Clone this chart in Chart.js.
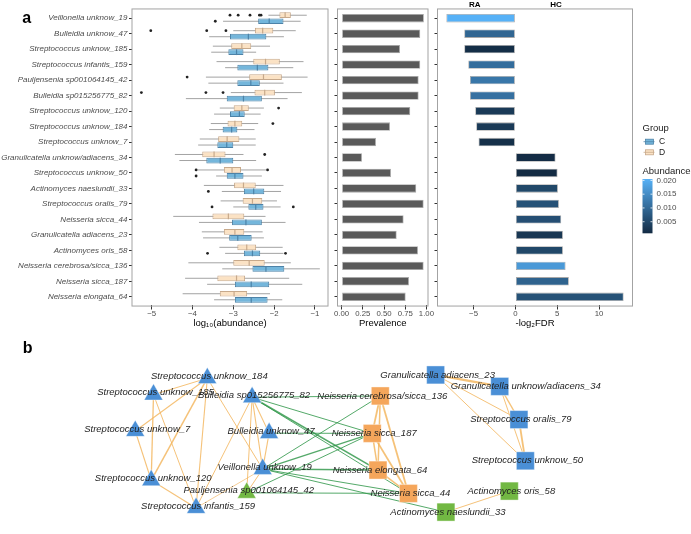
<!DOCTYPE html>
<html>
<head>
<meta charset="utf-8">
<script src="https://cdn.jsdelivr.net/npm/chart.js@4.4.1/dist/chart.umd.min.js"></script>
<style>
  html, body { margin: 0; padding: 0; background: #fff; }
  #wrap { position: relative; width: 691px; height: 534px; overflow: hidden; }
  canvas { position: absolute; }
</style>
</head>
<body>
<div id="wrap">
  <canvas id="box" width="330" height="334" style="left:0;top:0"></canvas>
  <canvas id="prev" width="107" height="334" style="left:330px;top:0"></canvas>
  <canvas id="fdr" width="259" height="334" style="left:432px;top:0"></canvas>
  <canvas id="net" width="691" height="200" style="left:0;top:334px"></canvas>
</div>
<script>
// ---- data ----
const species = ['Veillonella unknow_19', 'Bulleidia unknow_47', 'Streptococcus unknow_185',
  'Streptococcus infantis_159', 'Pauljensenia sp001064145_42', 'Bulleidia sp015256775_82',
  'Streptococcus unknow_120', 'Streptococcus unknow_184', 'Streptococcus unknow_7',
  'Granulicatella unknow/adiacens_34', 'Streptococcus unknow_50', 'Actinomyces naeslundii_33',
  'Streptococcus oralis_79', 'Neisseria sicca_44', 'Granulicatella adiacens_23',
  'Actinomyces oris_58', 'Neisseria cerebrosa/sicca_136', 'Neisseria sicca_187', 'Neisseria elongata_64'];

// log10 abundance, group D
const dMin = [-2.14, -3.00, -3.50, -3.41, -3.67, -3.06, -3.33, -3.55, -3.82, -4.43, -3.88, -3.72, -3.31, -4.47, -3.77, -3.34, -4.10, -4.18, -4.24];
const dQ1  = [-1.87, -2.47, -3.05, -2.51, -2.61, -2.48, -2.99, -3.14, -3.37, -3.76, -3.23, -2.98, -2.77, -3.51, -3.23, -2.90, -3.00, -3.39, -3.33];
const dMed = [-1.73, -2.28, -2.79, -2.21, -2.26, -2.23, -2.79, -2.96, -3.15, -3.47, -3.03, -2.75, -2.53, -3.12, -2.96, -2.67, -2.61, -2.92, -2.98];
const dQ3  = [-1.59, -2.02, -2.56, -1.86, -1.81, -1.98, -2.62, -2.78, -2.85, -3.19, -2.81, -2.45, -2.29, -2.73, -2.73, -2.44, -2.23, -2.71, -2.66];
const dMax = [-1.20, -1.47, -2.10, -1.28, -1.18, -1.32, -2.25, -2.39, -2.45, -2.75, -2.20, -1.77, -1.93, -2.21, -2.28, -1.79, -1.59, -1.63, -2.10];
const dOut = [[-3.08, -2.88, -2.59, -2.36, -2.32], [-5.02, -3.65, -3.18], [], [], [-4.13], [-5.25, -3.67, -3.25],
  [-1.89], [-2.03], [], [-2.23], [-3.91, -2.16], [], [], [], [], [], [], [], []];

// log10 abundance, group C
const cMin = [-3.25, -3.59, -3.54, -3.20, -3.61, -4.16, -3.47, -3.59, -3.86, -4.32, -3.42, -3.28, -3.00, -3.84, -3.74, -3.20, -3.27, -3.64, -3.47];
const cQ1  = [-2.39, -3.08, -3.12, -2.90, -2.90, -3.16, -3.08, -3.26, -3.39, -3.66, -3.16, -2.74, -2.63, -3.03, -3.10, -2.74, -2.53, -2.96, -2.96];
const cMed = [-2.12, -2.63, -2.92, -2.41, -2.57, -2.75, -2.85, -3.04, -3.16, -3.32, -2.96, -2.50, -2.45, -2.69, -2.89, -2.53, -2.20, -2.56, -2.56];
const cQ3  = [-1.77, -2.19, -2.75, -2.14, -2.35, -2.30, -2.72, -2.90, -3.00, -3.00, -2.75, -2.24, -2.26, -2.30, -2.55, -2.34, -1.75, -2.12, -2.16];
const cMax = [-1.35, -1.76, -2.44, -1.53, -1.77, -1.67, -2.33, -2.48, -2.45, -2.44, -2.30, -1.83, -1.84, -1.72, -2.25, -1.77, -0.88, -1.31, -1.80];
const cOut = [[-3.44], [], [], [], [], [], [], [], [], [], [-3.91], [-3.61], [-3.52, -1.53], [], [], [-3.63, -1.72], [], [], []];

const prevalence = [0.97, 0.927, 0.688, 0.927, 0.908, 0.908, 0.809, 0.570, 0.405, 0.24, 0.582, 0.88, 0.967, 0.731, 0.649, 0.90, 0.967, 0.794, 0.755];
const log2FDR = [-8.25, -6.11, -6.11, -5.63, -5.43, -5.43, -4.80, -4.68, -4.40, 4.80, 5.04, 5.08, 5.20, 5.48, 5.68, 5.68, 6.0, 6.39, 12.94];
const abundance = [0.0205, 0.0095, 0.0012, 0.0105, 0.012, 0.011, 0.003, 0.003, 0.0015, 0.001, 0.0008, 0.005, 0.0065, 0.006, 0.0025, 0.005, 0.017, 0.009, 0.0065];

const boxTicks = [-5, -4, -3, -2, -1];
const prevTicks = [0, 0.25, 0.5, 0.75, 1];
const fdrTicks = [-5, 0, 5, 10];
const abundanceTicks = [0.005, 0.010, 0.015, 0.020];

// network: nodes (layout units) and edges
const nodeNames = ['Streptococcus unknow_184', 'Streptococcus unknow_185', 'Bulleidia sp015256775_82',
  'Streptococcus unknow_7', 'Bulleidia unknow_47', 'Veillonella unknow_19', 'Streptococcus unknow_120',
  'Pauljensenia sp001064145_42', 'Streptococcus infantis_159', 'Granulicatella adiacens_23',
  'Granulicatella unknow/adiacens_34', 'Streptococcus oralis_79', 'Streptococcus unknow_50',
  'Neisseria cerebrosa/sicca_136', 'Neisseria sicca_187', 'Neisseria elongata_64', 'Neisseria sicca_44',
  'Actinomyces oris_58', 'Actinomyces naeslundii_33'];
const nodeX = [201.7, 145.7, 248.3, 126.7, 266, 259.3, 143.3, 242.7, 190, 439.3, 506, 526, 532.7, 381.7, 373.3, 379.3, 411, 516, 450];
const nodeY = [369.5, 388.5, 391.5, 430.5, 433, 474.5, 487.5, 502, 519.5, 365.7, 379, 417.3, 465, 390, 433.3, 475.7, 502.7, 500, 524.3];
const nodeShape = ['tri', 'tri', 'tri', 'tri', 'tri', 'tri', 'tri', 'tri', 'tri', 'sq', 'sq', 'sq', 'sq', 'sq', 'sq', 'sq', 'sq', 'sq', 'sq'];
const nodeGroup = ['blue', 'blue', 'blue', 'blue', 'blue', 'blue', 'blue', 'green', 'blue', 'blue', 'blue', 'blue', 'blue',
  'orange', 'orange', 'orange', 'orange', 'green', 'green'];

const edgeFrom   = [0, 0, 0, 0, 0, 1, 1, 3, 6, 2, 2, 2, 2, 4, 5, 5, 13, 13, 13, 14, 14, 15, 9, 9, 9, 10, 10, 11, 17,
  2, 2, 2, 2, 4, 5, 5, 5, 5, 5, 7, 7];
const edgeTo     = [1, 3, 6, 8, 5, 6, 8, 6, 8, 4, 5, 7, 8, 5, 7, 8, 14, 15, 16, 15, 16, 16, 10, 11, 12, 11, 12, 12, 18,
  13, 14, 15, 16, 14, 13, 14, 15, 16, 18, 14, 16];
const edgeSign   = ['+', '+', '+', '+', '+', '+', '+', '+', '+', '+', '+', '+', '+', '+', '+', '+', '+', '+', '+', '+', '+', '+', '+', '+', '+', '+', '+', '+', '+',
  '-', '-', '-', '-', '-', '-', '-', '-', '-', '-', '-', '-'];
const edgeWeight = [1, 1.1, 1.5, 1.1, 1, 1.3, 1, 1.1, 1.1, 1.1, 1.1, 1, 1, 1.1, 1, 0.8, 1.8, 1.5, 1.8, 1.5, 1.8, 1.5, 2.2, 1, 1, 1.3, 1, 1.8, 1,
  1, 1, 1.6, 1, 1, 1, 1.3, 1.5, 1, 1, 1, 1];

// ---- styles ----
Chart.defaults.font.family = "'Liberation Sans', Arial, sans-serif";
Chart.defaults.color = '#4d4d4d';
const FONT = "'Liberation Sans', Arial, sans-serif";
const C_FILL = '#74b6db', C_LINE = '#4d83a8';
const D_FILL = '#fbe2c4', D_LINE = '#c7a98b';
const WHISKER = '#a3a3a3';
const PANEL = '#a3a3a3';
const LOW = [19, 43, 67], HIGH = [86, 177, 247];
const abLo = Math.min(...abundance), abHi = Math.max(...abundance);

function abColor(a) {
  const t = Math.max(0, Math.min(1, (a - abLo) / (abHi - abLo)));
  const c = LOW.map((l, k) => Math.round(l + (HIGH[k] - l) * t));
  return `rgb(${c[0]},${c[1]},${c[2]})`;
}
const minus = v => (v < 0 ? '\u2212' + Math.abs(v) : String(v));

// ggplot-like discrete expansion (0.6 instead of chart.js 0.5)
function panelRect(chart) {
  const a = chart.chartArea;
  const extra = 0.1 * (a.bottom - a.top) / species.length;
  return { left: a.left, right: a.right, top: a.top - extra, bottom: a.bottom + extra };
}
function drawPanel(chart) {
  const r = panelRect(chart), ctx = chart.ctx;
  ctx.save();
  ctx.strokeStyle = PANEL;
  ctx.lineWidth = 1;
  ctx.strokeRect(r.left, r.top, r.right - r.left, r.bottom - r.top);
  ctx.restore();
}

const commonY = {
  grid: { drawOnChartArea: false, drawTicks: true, tickLength: 3, color: '#333', offset: false },
  border: { display: false }
};
function xAxis(min, max, ticks, fmt, title) {
  return {
    type: 'linear', min, max,
    afterBuildTicks: s => { s.ticks = ticks.map(v => ({ value: v })); },
    afterFit: s => { s.height = 29.5; },
    grid: { drawOnChartArea: false, drawTicks: true, tickLength: 5, color: '#333' },
    border: { display: false },
    ticks: { font: { size: 7.8 }, color: '#4d4d4d', padding: 0, maxRotation: 0, callback: fmt },
    title: { display: true, text: title, color: '#000', font: { size: 9.5 }, padding: { top: 0, bottom: 5 } }
  };
}

// ---- boxplot panel ----
const groups = [
  { min: dMin, med: dMed, max: dMax, out: dOut, line: D_LINE },
  { min: cMin, med: cMed, max: cMax, out: cOut, line: C_LINE }
];
const boxExtras = {
  id: 'boxExtras',
  beforeDatasetsDraw(chart) {
    const ctx = chart.ctx, x = chart.scales.x;
    ctx.save();
    ctx.strokeStyle = WHISKER;
    ctx.lineWidth = 1;
    groups.forEach((g, di) => {
      chart.getDatasetMeta(di).data.forEach((bar, i) => {
        ctx.beginPath();
        ctx.moveTo(x.getPixelForValue(g.min[i]), bar.y);
        ctx.lineTo(x.getPixelForValue(g.max[i]), bar.y);
        ctx.stroke();
      });
    });
    ctx.restore();
  },
  afterDatasetsDraw(chart) {
    const ctx = chart.ctx, x = chart.scales.x;
    ctx.save();
    groups.forEach((g, di) => {
      chart.getDatasetMeta(di).data.forEach((bar, i) => {
        const px = x.getPixelForValue(g.med[i]);
        ctx.strokeStyle = g.line;
        ctx.lineWidth = 1.2;
        ctx.beginPath();
        ctx.moveTo(px, bar.y - bar.height / 2);
        ctx.lineTo(px, bar.y + bar.height / 2);
        ctx.stroke();
        ctx.fillStyle = '#222';
        g.out[i].forEach(v => {
          ctx.beginPath();
          ctx.arc(x.getPixelForValue(v), bar.y, 1.4, 0, Math.PI * 2);
          ctx.fill();
        });
      });
    });
    ctx.restore();
    drawPanel(chart);
    ctx.save();
    ctx.fillStyle = '#000';
    ctx.font = `bold 16px ${FONT}`;
    ctx.textAlign = 'center';
    ctx.textBaseline = 'alphabetic';
    ctx.fillText('a', 26.7, 23);
    ctx.restore();
  }
};

new Chart(document.getElementById('box'), {
  type: 'bar',
  data: {
    labels: species,
    datasets: [
      { label: 'D', data: dQ1.map((q, i) => [q, dQ3[i]]), backgroundColor: D_FILL, borderColor: D_LINE,
        borderWidth: 1, borderSkipped: false, categoryPercentage: 0.78, barPercentage: 0.95 },
      { label: 'C', data: cQ1.map((q, i) => [q, cQ3[i]]), backgroundColor: C_FILL, borderColor: C_LINE,
        borderWidth: 1, borderSkipped: false, categoryPercentage: 0.78, barPercentage: 0.95 }
    ]
  },
  options: {
    indexAxis: 'y', responsive: false, animation: false,
    layout: { padding: { top: 10.5, right: 2, left: 0, bottom: 0 } },
    plugins: { legend: { display: false }, tooltip: { enabled: false } },
    scales: {
      x: xAxis(-5.48, -0.68, boxTicks, v => minus(v), 'log\u2081\u2080(abundance)'),
      y: Object.assign({}, commonY, {
        afterFit: s => { s.width = 132; },
        ticks: { font: { size: 8, style: 'italic' }, color: '#4d4d4d', padding: 1.5 }
      })
    }
  },
  plugins: [boxExtras]
});

// ---- prevalence panel ----
new Chart(document.getElementById('prev'), {
  type: 'bar',
  data: {
    labels: species,
    datasets: [{ data: prevalence, backgroundColor: '#5a5a5a', borderColor: '#a8a8a8', borderWidth: 0.8,
      borderSkipped: false, categoryPercentage: 1, barPercentage: 0.54 }]
  },
  options: {
    indexAxis: 'y', responsive: false, animation: false,
    layout: { padding: { top: 10.5, right: 9, left: 0, bottom: 0 } },
    plugins: { legend: { display: false }, tooltip: { enabled: false } },
    scales: {
      x: xAxis(-0.0485, 1.0185, prevTicks, v => v.toFixed(2), 'Prevalence'),
      y: Object.assign({}, commonY, {
        afterFit: s => { s.width = 7.5; },
        ticks: { display: false }
      })
    }
  },
  plugins: [{ id: 'prevPanel', afterDatasetsDraw: drawPanel }]
});

// ---- -log2FDR panel with legends ----
const fdrExtras = {
  id: 'fdrExtras',
  afterDatasetsDraw(chart) {
    drawPanel(chart);
    const ctx = chart.ctx, x = chart.scales.x, a = chart.chartArea;
    ctx.save();
    ctx.fillStyle = '#000';
    ctx.font = `bold 8px ${FONT}`;
    ctx.textAlign = 'center';
    ctx.textBaseline = 'middle';
    ctx.fillText('RA', x.getPixelForValue(-4.85), 5);
    ctx.fillText('HC', x.getPixelForValue(4.85), 5);

    // Group legend
    const lx = a.right + 10;
    ctx.textAlign = 'left';
    ctx.fillStyle = '#1a1a1a';
    ctx.font = `9.5px ${FONT}`;
    ctx.fillText('Group', lx, 128.5);
    [['C', C_FILL, C_LINE, 141.7], ['D', D_FILL, D_LINE, 152.3]].forEach(([t, f, l, y]) => {
      ctx.strokeStyle = l;
      ctx.lineWidth = 0.8;
      ctx.beginPath();
      ctx.moveTo(lx + 1, y); ctx.lineTo(lx + 12, y); ctx.stroke();
      ctx.fillStyle = f;
      ctx.fillRect(lx + 3, y - 2.5, 8, 5);
      ctx.strokeRect(lx + 3, y - 2.5, 8, 5);
      ctx.beginPath();
      ctx.moveTo(lx + 3, y); ctx.lineTo(lx + 11, y); ctx.stroke();
      ctx.fillStyle = '#1a1a1a';
      ctx.font = `8.5px ${FONT}`;
      ctx.fillText(t, lx + 16.5, y);
    });

    // Abundance colour bar
    ctx.font = `9.5px ${FONT}`;
    ctx.fillText('Abundance', lx, 171.7);
    const top = 179, bot = 233.3, w = 10;
    const grad = ctx.createLinearGradient(0, bot, 0, top);
    for (let k = 0; k <= 10; k++) grad.addColorStop(k / 10, abColor(abLo + (abHi - abLo) * k / 10));
    ctx.fillStyle = grad;
    ctx.fillRect(lx, top, w, bot - top);
    ctx.font = `8px ${FONT}`;
    abundanceTicks.forEach(v => {
      const y = bot - (v - abLo) / (abHi - abLo) * (bot - top);
      ctx.strokeStyle = '#fff';
      ctx.lineWidth = 0.8;
      ctx.beginPath();
      ctx.moveTo(lx, y); ctx.lineTo(lx + 2, y);
      ctx.moveTo(lx + w - 2, y); ctx.lineTo(lx + w, y);
      ctx.stroke();
      ctx.fillStyle = '#4d4d4d';
      ctx.fillText(v.toFixed(3), lx + 14, y);
    });
    ctx.restore();
  }
};

new Chart(document.getElementById('fdr'), {
  type: 'bar',
  data: {
    labels: species,
    datasets: [{ data: log2FDR, backgroundColor: abundance.map(abColor), borderColor: '#a8a8a8', borderWidth: 0.8,
      borderSkipped: false, categoryPercentage: 1, barPercentage: 0.54 }]
  },
  options: {
    indexAxis: 'y', responsive: false, animation: false,
    layout: { padding: { top: 10.5, right: 58.5, left: 0, bottom: 0 } },
    plugins: { legend: { display: false }, tooltip: { enabled: false } },
    scales: {
      x: xAxis(-9.31, 14.0, fdrTicks, v => minus(v), '-log\u2082FDR'),
      y: Object.assign({}, commonY, {
        afterFit: s => { s.width = 5.5; },
        ticks: { display: false }
      })
    }
  },
  plugins: [fdrExtras]
});

// ---- network panel ----
const NODE_COLORS = { blue: '#4a8fd6', orange: '#f5a65b', green: '#72b843' };
const edgeSets = edgeFrom.map((f, i) => ({
  data: [{ x: nodeX[f], y: nodeY[f] }, { x: nodeX[edgeTo[i]], y: nodeY[edgeTo[i]] }],
  showLine: true,
  borderColor: edgeSign[i] === '+' ? 'rgba(243,180,92,0.82)' : 'rgba(46,150,72,0.82)',
  borderWidth: edgeWeight[i],
  pointRadius: 0,
  clip: false
}));
const nodeSet = {
  data: nodeX.map((v, i) => ({ x: v, y: nodeY[i] })),
  pointStyle: nodeShape.map(s => (s === 'tri' ? 'triangle' : 'rect')),
  pointRadius: nodeShape.map(s => (s === 'tri' ? 10.8 : 12.7)),
  backgroundColor: nodeGroup.map(g => NODE_COLORS[g]),
  borderColor: 'rgba(255,255,255,0.5)',
  borderWidth: 0.8,
  clip: false
};
const netLabels = {
  id: 'netLabels',
  afterDatasetsDraw(chart) {
    const ctx = chart.ctx;
    const meta = chart.getDatasetMeta(0);
    ctx.save();
    ctx.fillStyle = '#1f1f1f';
    ctx.font = `italic 9.5px ${FONT}`;
    ctx.textAlign = 'center';
    ctx.textBaseline = 'middle';
    meta.data.forEach((pt, i) => {
      const dx = nodeNames[i].startsWith('Granulicatella unknow') ? 26 : 2;
      const dy = nodeShape[i] === 'tri' ? -2 : 0;
      ctx.fillText(nodeNames[i], pt.x + dx, pt.y + dy);
    });
    ctx.fillStyle = '#000';
    ctx.font = `bold 16px ${FONT}`;
    ctx.textBaseline = 'alphabetic';
    ctx.fillText('b', 27.7, 19);
    ctx.restore();
  }
};

new Chart(document.getElementById('net'), {
  type: 'scatter',
  data: { datasets: [nodeSet].concat(edgeSets) },
  options: {
    responsive: false, animation: false,
    layout: { padding: 0 },
    plugins: { legend: { display: false }, tooltip: { enabled: false } },
    scales: {
      x: { type: 'linear', min: 0, max: 691, display: false },
      y: { type: 'linear', min: 334, max: 534, reverse: true, display: false }
    }
  },
  plugins: [netLabels]
});
</script>
</body>
</html>
